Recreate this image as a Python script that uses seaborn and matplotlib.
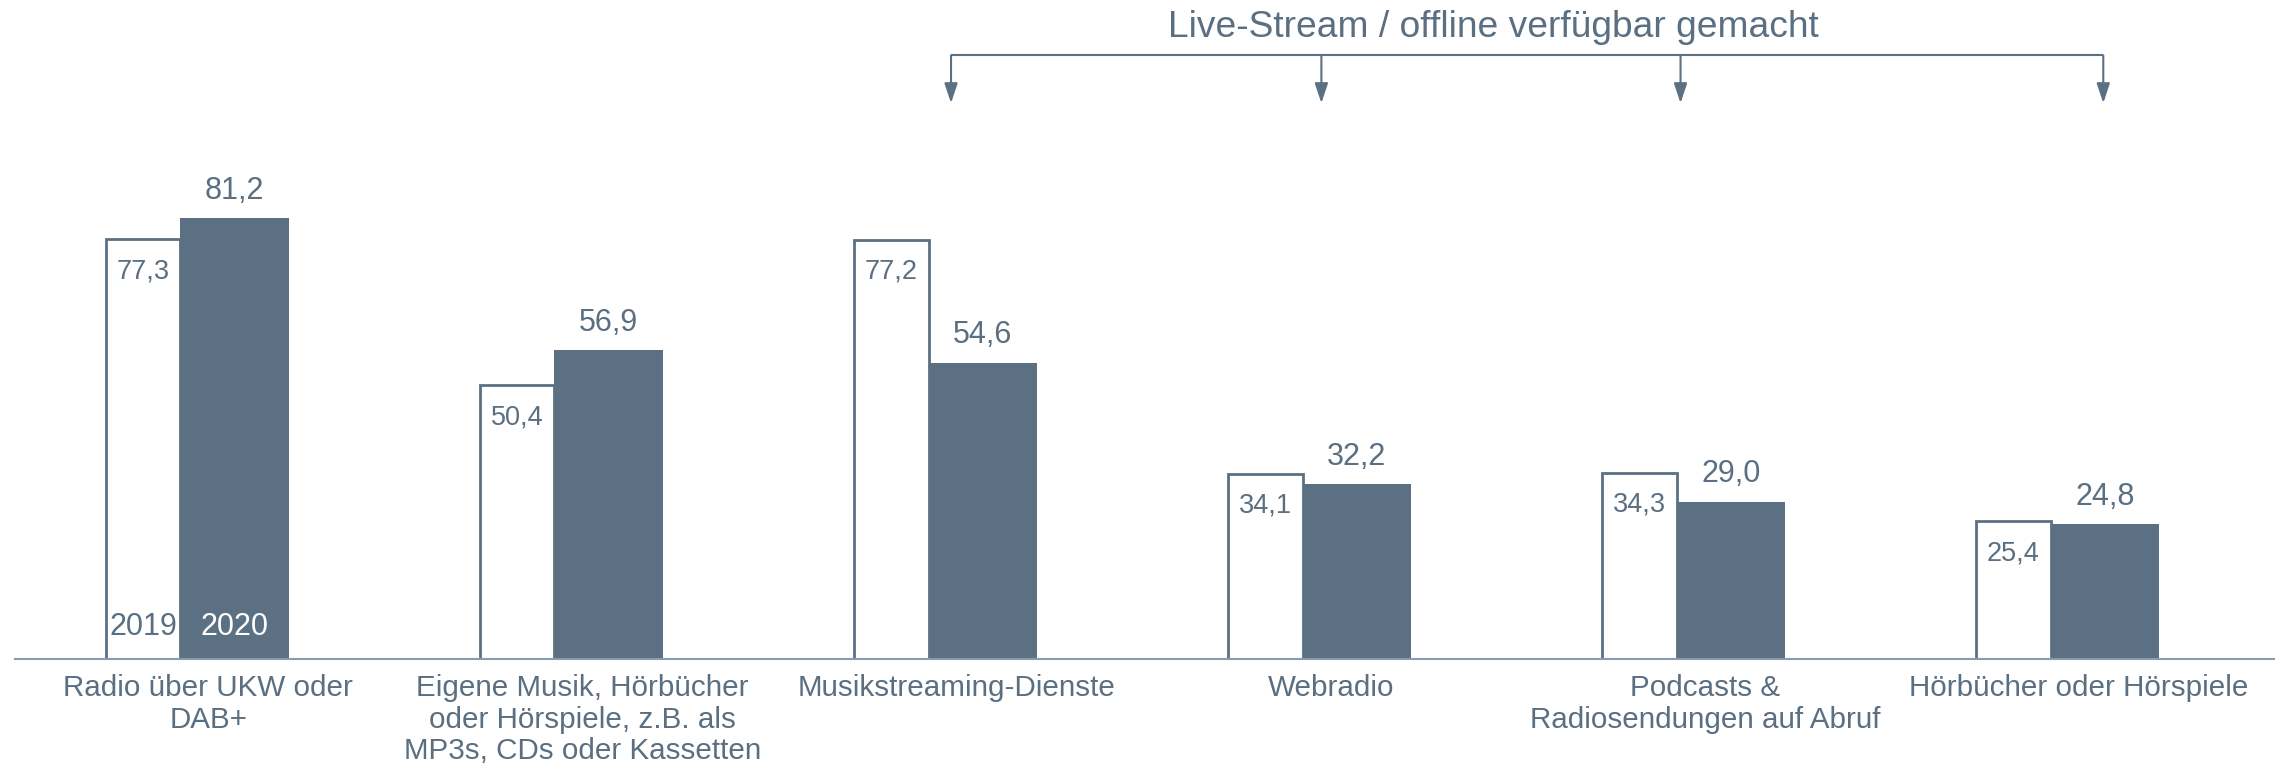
import numpy as np
import pandas as pd
import matplotlib.pyplot as plt
import seaborn as sns

# data
categories = [
    "Radio über UKW oder\nDAB+",
    "Eigene Musik, Hörbücher\noder Hörspiele, z.B. als\nMP3s, CDs oder Kassetten",
    "Musikstreaming-Dienste",
    "Webradio",
    "Podcasts &\nRadiosendungen auf Abruf",
    "Hörbücher oder Hörspiele",
]
values_2019 = [77.3, 50.4, 77.2, 34.1, 34.3, 25.4]
values_2020 = [81.2, 56.9, 54.6, 32.2, 29.0, 24.8]
years = ["2019", "2020"]
bracket_title = "Live-Stream / offline verfügbar gemacht"
arrow_groups = [2.06, 3.05, 4.01, 5.14]  # x of the arrows (group units)

dark = "#5b7083"
text_col = "#5b6f82"
base_col = "#8a9bb0"
w19, w20 = 0.2, 0.29

sns.set_theme(style="white")
plt.rcParams["font.family"] = ["Liberation Sans", "DejaVu Sans"]

idx = np.arange(len(categories))
df19 = pd.DataFrame({"pos": idx - w19 / 2, "val": values_2019})
df20 = pd.DataFrame({"pos": idx + w20 / 2, "val": values_2020})

fig = plt.figure(figsize=(22.75, 7.7), dpi=100)
ax = fig.add_axes([15 / 2275, 111 / 770, 1 - 15 / 2275, 659 / 770])

sns.barplot(data=df19, x="pos", y="val", native_scale=True, width=w19,
            color="white", edgecolor=dark, linewidth=2, errorbar=None,
            saturation=1, ax=ax)
sns.barplot(data=df20, x="pos", y="val", native_scale=True, width=w20,
            color=dark, edgecolor=dark, linewidth=0, errorbar=None,
            saturation=1, ax=ax)

ax.set_xlim(-0.442, 5.599)
ax.set_ylim(0, 121.4)
ax.set_xlabel("")
ax.set_ylabel("")
ax.set_yticks([])
ax.set_xticks(idx + 0.075)
ax.set_xticklabels(categories, fontsize=21.3, color=text_col, linespacing=1.15)
ax.tick_params(axis="x", length=0, pad=11)
for s in ["top", "right", "left"]:
    ax.spines[s].set_visible(False)
ax.spines["bottom"].set_color(base_col)
ax.spines["bottom"].set_linewidth(1.5)
ax.spines["bottom"].set_zorder(5)

def fmt(v):
    return f"{v:.1f}".replace(".", ",")

for i in idx:
    x19 = i - w19 / 2
    x20 = i + w20 / 2
    ax.annotate(fmt(values_2019[i]), (x19, values_2019[i]), xytext=(0, -28),
                textcoords="offset points", ha="center", va="baseline",
                fontsize=19.5, color=text_col)
    ax.annotate(fmt(values_2020[i]), (x20, values_2020[i]), xytext=(0, 14),
                textcoords="offset points", ha="center", va="baseline",
                fontsize=22, color=text_col)

# year labels inside first group
ax.annotate(years[0], (-w19 / 2, 0), xytext=(0, 17.5), textcoords="offset points",
            ha="center", va="baseline", fontsize=22, color=text_col)
ax.annotate(years[1], (w20 / 2, 0), xytext=(0, 17.5), textcoords="offset points",
            ha="center", va="baseline", fontsize=22, color="white")

# bracket with arrows
y_line, y_tip = 111.2, 102.4
ax.plot([arrow_groups[0], arrow_groups[-1]], [y_line, y_line], color=dark,
        lw=1.5, clip_on=False, solid_capstyle="butt")
for xa in arrow_groups:
    ax.annotate("", xy=(xa, y_tip), xytext=(xa, y_line),
                arrowprops=dict(arrowstyle="-|>,head_length=0.6,head_width=0.2",
                                color=dark, lw=1.5, mutation_scale=20,
                                shrinkA=0, shrinkB=0),
                annotation_clip=False)
ax.text(3.51, 116.3, bracket_title, ha="center", va="center", fontsize=26.7,
        color=text_col, clip_on=False)

fig.savefig("out.png", dpi=100)
